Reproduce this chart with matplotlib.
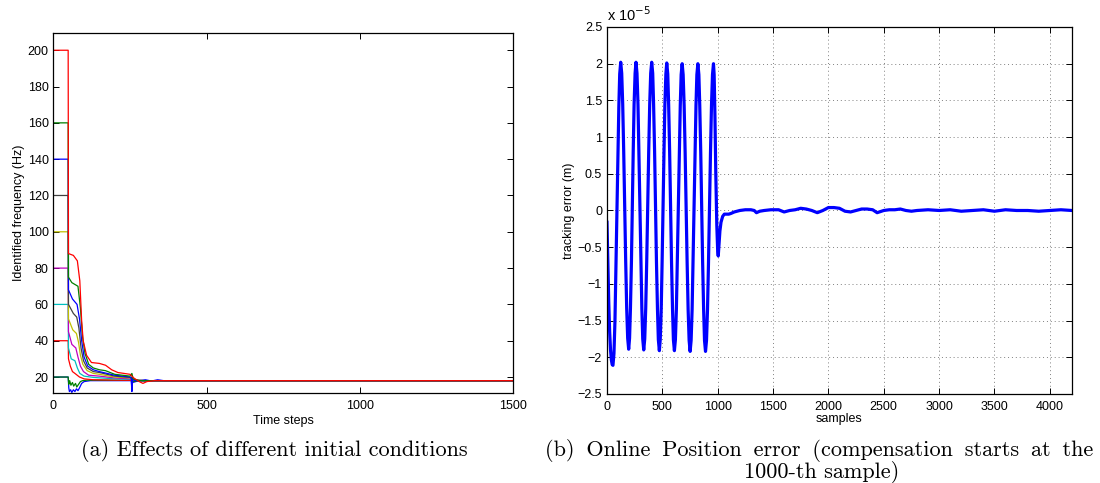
import numpy as np
import matplotlib
matplotlib.use("Agg")
import matplotlib.pyplot as plt

plt.rcParams['font.family'] = ['Liberation Sans', 'DejaVu Sans']

# ---- (a) identified frequency vs time steps, one curve per initial value ----
# matlab colours
mb = (0, 0, 1)
mg = (0, 0.5, 0)
mr = (1, 0, 0)
mc = (0, 0.75, 0.75)
mm = (0.75, 0, 0.75)
my = (0.75, 0.75, 0)
mk = (0.25, 0.25, 0.25)

blue_lo_x = [0, 48, 50, 52, 56, 60, 65, 70, 75, 80, 85, 92, 100, 120, 200, 254, 256, 258, 280, 300, 320, 340, 360, 1500]
blue_lo_y = [20, 20, 14, 12, 13, 11.5, 13, 12, 13.5, 12.5, 14, 16.5, 17.5, 18, 18, 18, 12, 17, 18, 18.5, 17.8, 18.5, 18, 18]

green20_x = [0, 48, 50, 53, 57, 62, 66, 72, 76, 82, 88, 95, 110, 250, 256, 262, 280, 1500]
green20_y = [20, 20, 16, 18, 15.5, 17, 15, 16.5, 14.5, 16, 17.5, 18, 18.3, 18.2, 20, 17.5, 18, 18]

red40_x = [0, 48, 49, 55, 62, 70, 85, 100, 130, 200, 250, 300, 1500]
red40_y = [40, 40, 30, 26, 23, 22, 20, 19, 18.5, 18.3, 18.2, 18, 18]

cyan60_x = [0, 48, 49, 58, 70, 78, 86, 100, 130, 200, 250, 262, 300, 1500]
cyan60_y = [60, 60, 36, 30, 29, 25, 22, 20.5, 19.8, 19, 18.7, 18.2, 18, 18]

mag80_x = [0, 48, 49, 60, 73, 80, 88, 98, 115, 150, 200, 250, 262, 300, 1500]
mag80_y = [80, 80, 45, 38, 36, 31, 26, 23, 21, 20.5, 19.5, 19, 18.2, 18, 18]

yel100_x = [0, 48, 49, 63, 75, 82, 88, 96, 110, 130, 150, 200, 250, 262, 300, 1500]
yel100_y = [100, 100, 52, 46, 44, 39, 32, 27, 23.5, 22, 21.5, 20, 19.5, 18.3, 18, 18]

blk120_x = [0, 48, 49, 65, 76, 83, 90, 98, 110, 130, 150, 200, 250, 262, 300, 1500]
blk120_y = [120, 120, 60, 55, 53, 47, 36, 29, 25, 23, 22.5, 20.5, 19.8, 18.4, 18, 18]

blue140_x = [0, 48, 49, 62, 77, 85, 92, 100, 112, 130, 150, 200, 250, 254, 256, 258, 265, 300, 1500]
blue140_y = [140, 140, 68, 63, 60, 52, 40, 31, 26, 24, 23, 21, 20, 19.5, 12.5, 19, 18, 18, 18]

green160_x = [0, 48, 49, 60, 80, 88, 95, 103, 115, 130, 150, 170, 200, 250, 256, 260, 280, 1500]
green160_y = [160, 160, 75, 72, 70, 58, 42, 33, 27, 25, 24, 23.5, 21.5, 20.5, 22, 19, 18, 18]

red200_x = [0, 48, 49, 65, 78, 86, 92, 97, 108, 124, 150, 170, 190, 210, 250, 256, 262, 280, 292, 305, 330, 1500]
red200_y = [200, 200, 88, 87, 84, 73, 51, 40, 32, 28, 27.5, 26.5, 24, 22.5, 21.5, 20.5, 19.5, 17.5, 16.5, 17.5, 18, 18]

curves_a = [
    (blue_lo_x, blue_lo_y, mb),
    (green20_x, green20_y, mg),
    (red40_x, red40_y, mr),
    (cyan60_x, cyan60_y, mc),
    (mag80_x, mag80_y, mm),
    (yel100_x, yel100_y, my),
    (blk120_x, blk120_y, mk),
    (blue140_x, blue140_y, mb),
    (green160_x, green160_y, mg),
    (red200_x, red200_y, mr),
]

err_x = [0, 8, 16, 24, 32, 40, 47,
         54, 63, 72, 80, 89, 98, 107, 115,
         124, 133, 142, 151, 160, 169, 178, 187,
         196, 204, 212, 221, 229, 237, 245, 254,
         262, 271, 280, 288, 297, 306, 315, 323,
         332, 341, 350, 359, 368, 377, 386, 395,
         404, 413, 421, 430, 438, 447, 456, 464,
         473, 481, 490, 498, 506, 515, 523, 532,
         540, 549, 557, 566, 574, 583, 592, 600,
         609, 618, 627, 635, 644, 653, 662, 670,
         679, 688, 697, 706, 715, 724, 733, 742,
         751, 760, 769, 777, 786, 795, 804, 812,
         821, 830, 838, 847, 855, 864, 873, 881,
         890, 899, 908, 917, 926, 935, 944, 953,
         962, 968, 975, 983, 992, 1000, 1005, 1012, 1020, 1030, 1045,
         1060, 1080, 1100, 1120, 1150, 1200, 1250, 1300,
         1330, 1350, 1380, 1420, 1480, 1550, 1600, 1650, 1700, 1750, 1800, 1850,
         1900, 1950, 2000, 2050, 2100, 2150, 2200, 2250, 2300, 2350, 2400, 2440,
         2500, 2550, 2600, 2650, 2700, 2750, 2800, 2900, 3000, 3100, 3200, 3300,
         3400, 3500, 3600, 3700, 3800, 3900, 4000, 4100, 4200]
err_y = [-0.16, -0.7, -1.25, -1.65, -1.9, -2.04, -2.1,
         -2.11, -1.95, -1.51, -0.84, -0.05, 0.75, 1.41, 1.86,
         2.02, 1.87, 1.45, 0.81, 0.06, -0.69, -1.33, -1.74,
         -1.89, -1.74, -1.33, -0.69, 0.06, 0.81, 1.45, 1.87,
         2.02, 1.87, 1.45, 0.81, 0.06, -0.70, -1.34, -1.75,
         -1.90, -1.75, -1.33, -0.69, 0.06, 0.81, 1.45, 1.87,
         2.02, 1.87, 1.45, 0.81, 0.06, -0.70, -1.34, -1.76,
         -1.91, -1.76, -1.34, -0.70, 0.05, 0.80, 1.44, 1.86,
         2.01, 1.86, 1.44, 0.80, 0.05, -0.70, -1.34, -1.76,
         -1.91, -1.76, -1.34, -0.70, 0.05, 0.80, 1.43, 1.85,
         2.00, 1.85, 1.43, 0.79, 0.04, -0.71, -1.35, -1.77,
         -1.92, -1.77, -1.35, -0.71, 0.04, 0.79, 1.43, 1.85,
         2.00, 1.85, 1.43, 0.79, 0.04, -0.71, -1.35, -1.77,
         -1.92, -1.77, -1.35, -0.71, 0.04, 0.79, 1.43, 1.85,
         2.00, 1.85, 1.3, 0.5, -0.2, -0.55, -0.62, -0.45, -0.28, -0.16, -0.08,
         -0.05, -0.05, -0.05, -0.04, -0.02, 0.0, 0.01, 0.01,
         0.0, -0.03, -0.01, 0.0, 0.01, 0.01, -0.02, 0.0, 0.01, 0.03, 0.02, 0.0,
         -0.03, 0.0, 0.04, 0.04, 0.03, -0.01, -0.02, 0.0, 0.02, 0.02, 0.01, -0.03,
         0.0, 0.01, 0.01, 0.02, 0.0, -0.01, 0.0, 0.01, 0.0, 0.01, -0.01, 0.0,
         0.01, -0.01, 0.01, 0.0, 0.0, -0.01, 0.0, 0.01, 0.0]

ticks_a_x = [0, 500, 1000, 1500]
ticks_a_y = [20, 40, 60, 80, 100, 120, 140, 160, 180, 200]
ticks_b_x = [0, 500, 1000, 1500, 2000, 2500, 3000, 3500, 4000]
ticks_b_y = [-2.5, -2, -1.5, -1, -0.5, 0, 0.5, 1, 1.5, 2, 2.5]
labels_b_y = ['\u22122.5', '\u22122', '\u22121.5', '\u22121', '\u22120.5', '0',
              '0.5', '1', '1.5', '2', '2.5']

fig = plt.figure(figsize=(11, 4.83), dpi=100)
axa = fig.add_axes([0.0486, 0.1863, 0.4178, 0.7454])
axb = fig.add_axes([0.5518, 0.1843, 0.4227, 0.7598])

for xs, ys, c in curves_a:
    axa.plot(xs, ys, color=c, lw=0.9)
axa.set_xlim(0, 1500)
axa.set_ylim(11.2, 209.5)
axa.set_xticks(ticks_a_x)
axa.set_yticks(ticks_a_y)
axa.set_xlabel('Time steps', fontsize=9, labelpad=2)
axa.set_ylabel('Identified frequency (Hz)', fontsize=9, labelpad=2)

axb.plot(err_x, err_y, color=mb, lw=2.3)
axb.set_xlim(0, 4200)
axb.set_ylim(-2.5, 2.5)
axb.set_xticks(ticks_b_x)
axb.set_yticks(ticks_b_y)
axb.set_yticklabels(labels_b_y)
axb.grid(True, linestyle=(0, (1, 3)), color='0.5', lw=0.7)
axb.set_xlabel('samples', fontsize=9, labelpad=0)
axb.set_ylabel('tracking error (m)', fontsize=9, labelpad=2)
axb.text(0, 1.008, 'x 10$^{\u22125}$', transform=axb.transAxes, fontsize=10.5, va='bottom')

for ax in (axa, axb):
    ax.tick_params(direction='in', top=True, right=True, labelsize=9, length=4, width=0.7)
    ax.tick_params(axis='x', pad=5)
    for s in ax.spines.values():
        s.set_linewidth(0.9)

cap_font = ['cmr10', 'DejaVu Serif']
sp = ' \u2009'  # justified line: a little wider word spacing
fig.text(0.249, 0.068, '(a) Effects of different initial conditions',
         family=cap_font, fontsize=16, ha='center', va='center')
fig.text(0.7445, 0.068, sp.join(['(b)', 'Online', 'Position', 'error', '(compensation',
                                  'starts', 'at', 'the']),
         family=cap_font, fontsize=16, ha='center', va='center')
fig.text(0.7473, 0.023, '1000-th sample)',
         family=cap_font, fontsize=16, ha='center', va='center')

fig.savefig('out.png', dpi=100)
